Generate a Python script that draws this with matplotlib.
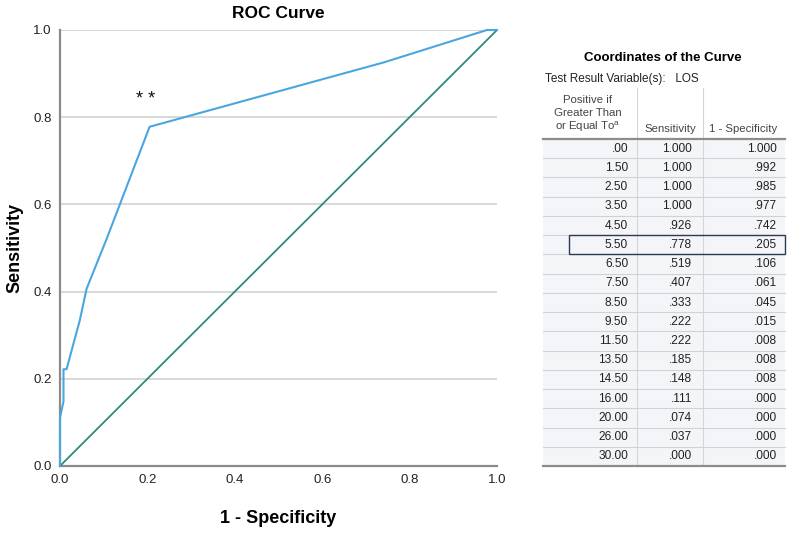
import matplotlib
matplotlib.use("Agg")
import matplotlib.pyplot as plt
from matplotlib.patches import Rectangle
from matplotlib.lines import Line2D

plt.rcParams['font.family'] = ['Liberation Sans', 'DejaVu Sans']

# ---- data ----
thresholds = [".00", "1.50", "2.50", "3.50", "4.50", "5.50", "6.50", "7.50", "8.50",
              "9.50", "11.50", "13.50", "14.50", "16.00", "20.00", "26.00", "30.00"]
sensitivity = [1.000, 1.000, 1.000, 1.000, .926, .778, .519, .407, .333,
               .222, .222, .185, .148, .111, .074, .037, .000]
one_minus_spec = [1.000, .992, .985, .977, .742, .205, .106, .061, .045,
                  .015, .008, .008, .008, .000, .000, .000, .000]
ticks = [0.0, 0.2, 0.4, 0.6, 0.8, 1.0]
highlight_row = 5

def fmt(v):
    s = f"{v:.3f}"
    return s[1:] if s.startswith("0") else s

W, H = 800, 533
fig = plt.figure(figsize=(W / 100, H / 100), dpi=100)

def fx(x):
    return x / W

def fy(y):
    return 1 - y / H

# ---- ROC plot ----
ax = fig.add_axes([fx(60), fy(466), fx(497) - fx(60), fy(30) - fy(466)])
ax.set_xlim(0, 1)
ax.set_ylim(0, 1)
for t in ticks[1:]:
    ax.axhline(t, color='#d2d2d2', lw=1.2, zorder=1)
ax.plot([0, 1], [0, 1], color='#2f8a7a', lw=1.3, zorder=3)
ax.plot(one_minus_spec, sensitivity, color='#4aa6e0', lw=1.5, zorder=4, clip_on=False)
ax.set_xticks(ticks)
ax.set_yticks(ticks)
ax.set_xticklabels([f"{t:.1f}" for t in ticks])
ax.set_yticklabels([f"{t:.1f}" for t in ticks])
ax.tick_params(length=0, labelsize=9.5, colors='#222222', pad=6)
for s in ['top', 'right']:
    ax.spines[s].set_visible(False)
for s in ['left', 'bottom']:
    ax.spines[s].set_color('#8a8a8a')
    ax.spines[s].set_linewidth(1.6)
ax.set_title("ROC Curve", fontsize=12.5, fontweight='bold', pad=9)
ax.set_xlabel("1 - Specificity", fontsize=13, fontweight='bold', labelpad=17)
ax.set_ylabel("Sensitivity", fontsize=13, fontweight='bold', labelpad=7)
ax.text(0.195, 0.82, "* *", fontsize=13, ha='center', va='bottom', color='#111111')

# ---- table ----
tl, tr = 543, 785
c1, c2 = 637, 703
hdr_line, bot_line = 139, 466
n = len(thresholds)
rh = (bot_line - hdr_line) / n

fig.text(fx(663), fy(58), "Coordinates of the Curve", fontsize=9.5, fontweight='bold',
         ha='center', va='center')
fig.text(fx(545), fy(79), "Test Result Variable(s):   LOS", fontsize=8.5,
         ha='left', va='center', color='#222222')
fig.text(fx(588), fy(100), "Positive if", fontsize=8.2, ha='center', va='center', color='#444444')
fig.text(fx(588), fy(113), "Greater Than", fontsize=8.2, ha='center', va='center', color='#444444')
fig.text(fx(588), fy(127), r"or Equal To$^{\mathregular{a}}$", fontsize=8.2, ha='center', va='center', color='#444444')
fig.text(fx(670), fy(129), "Sensitivity", fontsize=8.2, ha='center', va='center', color='#444444')
fig.text(fx(743), fy(129), "1 - Specificity", fontsize=8.2, ha='center', va='center', color='#444444')

fig.patches.append(Rectangle((fx(tl), fy(bot_line)), fx(tr) - fx(tl), fy(hdr_line) - fy(bot_line),
                             transform=fig.transFigure, facecolor='#f3f5f8', edgecolor='none', zorder=0))
for x in (c1, c2):
    fig.lines.append(Line2D([fx(x), fx(x)], [fy(88), fy(bot_line)], transform=fig.transFigure,
                            color='#d6d6d6', lw=0.8))
for i in range(1, n):
    y = hdr_line + i * rh
    fig.lines.append(Line2D([fx(tl), fx(tr)], [fy(y), fy(y)], transform=fig.transFigure,
                            color='#cfd3d8', lw=0.8))
for y in (hdr_line, bot_line):
    fig.lines.append(Line2D([fx(tl), fx(tr)], [fy(y), fy(y)], transform=fig.transFigure,
                            color='#8c8c8c', lw=1.6))

for i, (t, s, m) in enumerate(zip(thresholds, sensitivity, one_minus_spec)):
    yc = hdr_line + (i + 0.5) * rh
    fig.text(fx(628), fy(yc), t, fontsize=8.6, ha='right', va='center', color='#222222')
    fig.text(fx(692), fy(yc), fmt(s), fontsize=8.6, ha='right', va='center', color='#222222')
    fig.text(fx(777), fy(yc), fmt(m), fontsize=8.6, ha='right', va='center', color='#222222')

yb = hdr_line + highlight_row * rh
fig.patches.append(Rectangle((fx(569), fy(yb + rh)), fx(tr) - fx(569), fy(yb) - fy(yb + rh),
                             transform=fig.transFigure, facecolor='none', edgecolor='#2b3a55',
                             lw=1.0, zorder=5))

fig.savefig("out.png", dpi=100, facecolor='white')
